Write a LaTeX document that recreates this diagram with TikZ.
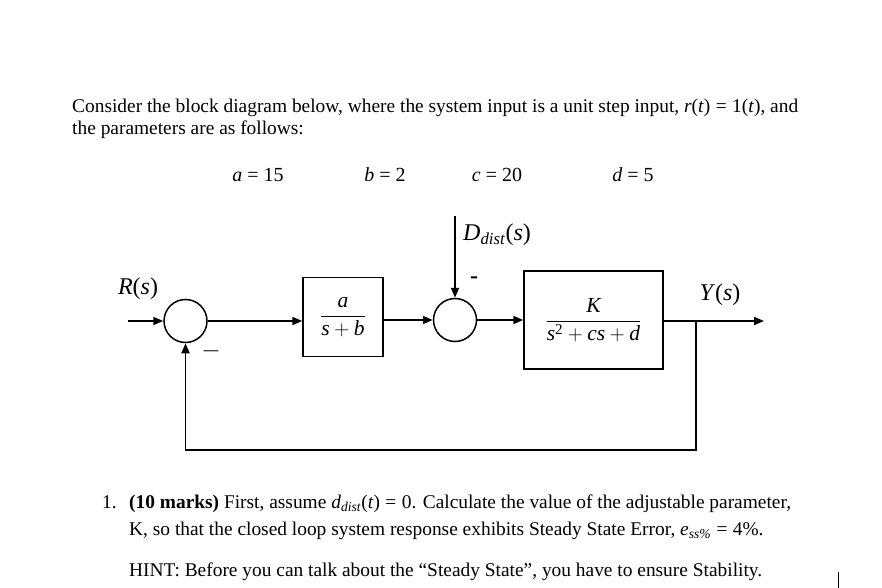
\documentclass[tikz,border=0pt]{standalone}
\usepackage{amsmath}
\usepackage{fontspec}
\setmainfont{Liberation Serif}
\usetikzlibrary{arrows.meta}
\newcommand{\vi}[1]{\textit{#1}}
\newcommand{\eqs}{\;=\;}
\begin{document}
\begin{tikzpicture}[x=1pt,y=-1pt,
  conn/.style={line width=1.8pt,-{Triangle[length=10pt,width=8pt]}},
  blk/.style={draw,line width=1.5pt,inner sep=0pt},
  sumc/.style={draw,circle,line width=1.5pt,minimum size=43pt,inner sep=0pt},
  txt/.style={anchor=base west,inner sep=0pt,font=\fontsize{19.4}{23}\selectfont},
  par/.style={anchor=base,inner sep=0pt,font=\fontsize{20}{24}\selectfont},
  frac/.style={font=\fontsize{21.5}{25}\selectfont},
  lbl/.style={inner sep=0pt,font=\fontsize{24}{28}\selectfont}]
\useasboundingbox (0,0) rectangle (882,588);
% top text
\node[txt] (t1) at (72,113) {Consider the block diagram below, where the system input is a unit step input, \vi{r}(\vi{t})\eqs 1(\vi{t}), and};
\node[txt] (t2) at (72,135) {the parameters are as follows:};
\node[par] (pa) at (258,182) {\vi{a} = 15};
\node[par] (pb) at (385,182) {\vi{b} = 2};
\node[par] (pc) at (497,182) {\vi{c} = 20};
\node[par] (pd) at (633,182) {\vi{d} = 5};
% diagram
\node[sumc] (s1) at (185.5,321) {};
\node[blk,frac,minimum width=80pt,minimum height=79pt] (b1) at (343,317)
  {$\dfrac{\vi{a}}{\vi{s}+\vi{b}}$};
\node[sumc] (s2) at (455,320) {};
\node[blk,frac,minimum width=139pt,minimum height=98pt] (b2) at (593.5,320)
  {$\dfrac{\vi{K}}{\vi{s}^{\text{2}}+\vi{cs}+\vi{d}}$};
\coordinate (in) at (128,321);
\coordinate (br) at (696,321);
\coordinate (out) at (764,321);
\coordinate (dtop) at (455,216);
\coordinate (fb) at (186,450);
\draw[conn] (in) -- (s1.west);
\draw[conn] (s1.east) -- (s1.east -| b1.west);
\draw[conn] (s2.west -| b1.east) -- (s2.west);
\draw[conn] (s2.east) -- (s2.east -| b2.west);
\draw[conn] (b2.east |- br) -- (out);
\draw[conn,line join=miter] (br) |- (s1.south |- fb) -- (s1.south);
\draw[conn] (dtop) -- (s2.north);
\node[lbl] (lr) at (138,289) {\vi{R}(\vi{s})};
\node[lbl] (ly) at (720,295) {\vi{Y}(\vi{s})};
\node[lbl,anchor=west] (ld) at (463,235) {\vi{D}\textsubscript{\vi{dist}}(\vi{s})};
\node[lbl] (m1) at (211,351) {$-$};
\node[lbl] (m2) at (474,280) {\textbf{-}};
% bottom text
\node[txt] (n1) at (102,508) {1.};
\node[txt] (q1) at (129,508) {\textbf{(10 marks)} First, assume \vi{d}\textsubscript{\vi{dist}}(\vi{t})\eqs 0. Calculate the value of the adjustable parameter,};
\node[txt] (q2) at (129,535) {K, so that the closed loop system response exhibits Steady State Error, \vi{e}\textsubscript{\vi{ss\%}}\eqs 4\%.};
\node[txt] (q3) at (129,576) {HINT: Before you can talk about the “Steady State”, you have to ensure Stability.};
\draw[line width=1pt] (838,572) -- (838,588);
\end{tikzpicture}
\end{document}
